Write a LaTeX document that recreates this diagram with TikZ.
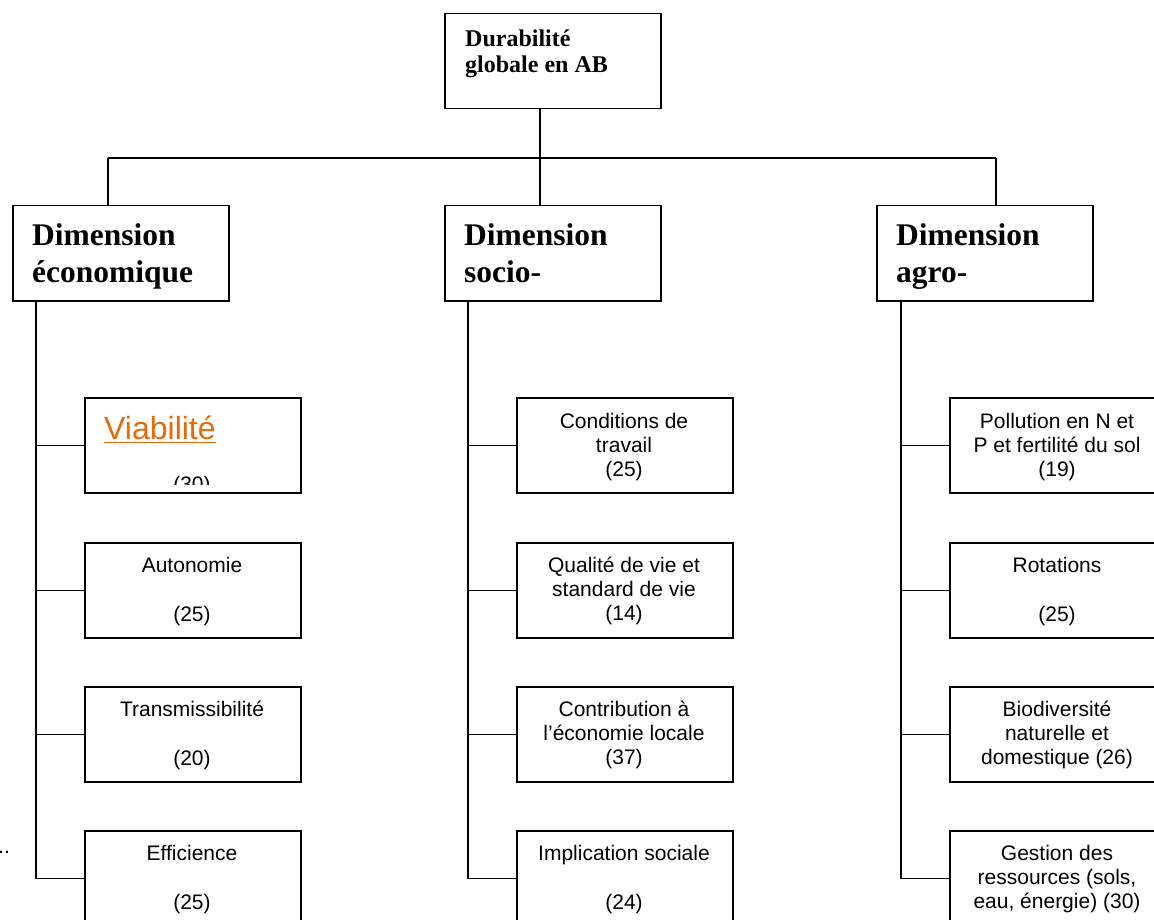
\documentclass[tikz,border=0pt]{standalone}
\usepackage{fontspec}
\setmainfont{Liberation Serif}
\setsansfont{Liberation Sans}
\definecolor{viaorange}{RGB}{228,108,10}
\tikzset{
  box/.style={draw=black, line width=1.5pt, rectangle, anchor=north west, inner sep=0pt, minimum width=216pt, minimum height=95pt},
  conn/.style={draw=black, line width=1.5pt},
  small/.style={anchor=base, inner sep=0pt, font=\sffamily\fontsize{21}{24.5}\selectfont},
  dimtxt/.style={anchor=base west, inner sep=0pt, font=\rmfamily\bfseries\fontsize{31.5}{37}\selectfont},
  toptxt/.style={anchor=base west, inner sep=0pt, font=\rmfamily\bfseries\fontsize{24}{27}\selectfont},
}
\begin{document}
\begin{tikzpicture}[x=1pt,y=-1pt]
\useasboundingbox (0,0) rectangle (1154,920);
\clip (0,0) rectangle (1154,920);
\fill[white] (0,0) rectangle (1154,920);
% top box
\node[box] (top) at (444,13) {};
\node[toptxt] (topa) at (465,47) {Durabilité};
\node[toptxt] (topb) at (465,73) {globale en AB};
% dimension boxes
\node[box] (dL) at (12,205) {};
\node[box] (dM) at (444,205) {};
\node[box] (dR) at (876,205) {};
\node[dimtxt] (dLa) at (32,245) {Dimension};
\node[dimtxt] (dLb) at (32,282) {économique};
\node[dimtxt] (dMa) at (464,245) {Dimension};
\node[dimtxt] (dMb) at (464,282) {socio-};
\node[dimtxt] (dRa) at (896,245) {Dimension};
\node[dimtxt] (dRb) at (896,282) {agro-};
% tree connectors at top
\coordinate (hub) at (540,158);
\coordinate (hL) at (108,158);
\coordinate (hR) at (996,158);
\draw[conn] (top.south -| hub) -- (hub);
\draw[conn] (hL) -- (hR);
\draw[conn] (hL) -- (hL |- dL.north);
\draw[conn] (hub) -- (hub |- dM.north);
\draw[conn] (hR) -- (hR |- dR.north);
% child boxes
\foreach \r/\t in {1/397, 2/542, 3/686, 4/830} {
  \node[box] (L\r) at (84,\t) {};
  \node[box] (M\r) at (516,\t) {};
  \node[box] (R\r) at (949,\t) {};
}
% spines
\coordinate (sL) at (36,0);
\coordinate (sM) at (468,0);
\coordinate (sR) at (901,0);
\draw[conn] (sL |- dL.south) -- (sL |- L4.west) -- (L4.west);
\draw[conn] (sM |- dM.south) -- (sM |- M4.west) -- (M4.west);
\draw[conn] (sR |- dR.south) -- (sR |- R4.west) -- (R4.west);
\foreach \r in {1,2,3} {
  \draw[conn] (sL |- L\r.west) -- (L\r.west);
  \draw[conn] (sM |- M\r.west) -- (M\r.west);
  \draw[conn] (sR |- R\r.west) -- (R\r.west);
}
% left column texts
\node[anchor=base west, inner sep=0pt, text=viaorange, font=\sffamily\fontsize{32}{36}\selectfont] (via) at (104,439) {Viabilité};
\draw[viaorange, line width=1.6pt] (via.base west) ++(0,3.5) -- ++(112,0);
\begin{scope}
\clip (85,398) rectangle (299,484);
\node[small] (L1c) at (192,491) {(30)};
\end{scope}
\node[small] (L2a) at (192,572) {Autonomie};
\node[small] (L2c) at (192,621) {(25)};
\node[small] (L3a) at (192,716) {Transmissibilité};
\node[small] (L3c) at (192,765) {(20)};
\node[small] (L4a) at (192,860) {Efficience};
\node[small] (L4c) at (192,909) {(25)};
% middle column texts
\node[small] (M1a) at (624,428) {Conditions de};
\node[small] (M1b) at (624,452) {travail};
\node[small] (M1c) at (624,476) {(25)};
\node[small] (M2a) at (624,572) {Qualité de vie et};
\node[small] (M2b) at (624,596) {standard de vie};
\node[small] (M2c) at (624,620) {(14)};
\node[small] (M3a) at (624,716) {Contribution à};
\node[small] (M3b) at (624,740) {l’économie locale};
\node[small] (M3c) at (624,764) {(37)};
\node[small] (M4a) at (624,860) {Implication sociale};
\node[small] (M4c) at (624,909) {(24)};
% right column texts
\node[small] (R1a) at (1057,428) {Pollution en N et};
\node[small] (R1b) at (1057,452) {P et fertilité du sol};
\node[small] (R1c) at (1057,476) {(19)};
\node[small] (R2a) at (1057,572) {Rotations};
\node[small] (R2c) at (1057,621) {(25)};
\node[small] (R3a) at (1057,716) {Biodiversité};
\node[small] (R3b) at (1057,740) {naturelle et};
\node[small] (R3c) at (1057,764) {domestique (26)};
\node[small] (R4a) at (1057,860) {Gestion des};
\node[small] (R4b) at (1057,884) {ressources (sols,};
\node[small] (R4c) at (1057,908) {eau, énergie) (30)};
% stray dots at left edge
\node[anchor=base west, inner sep=0pt, font=\sffamily\fontsize{21}{24}\selectfont] (dots) at (-2,853) {..};
\end{tikzpicture}
\end{document}
